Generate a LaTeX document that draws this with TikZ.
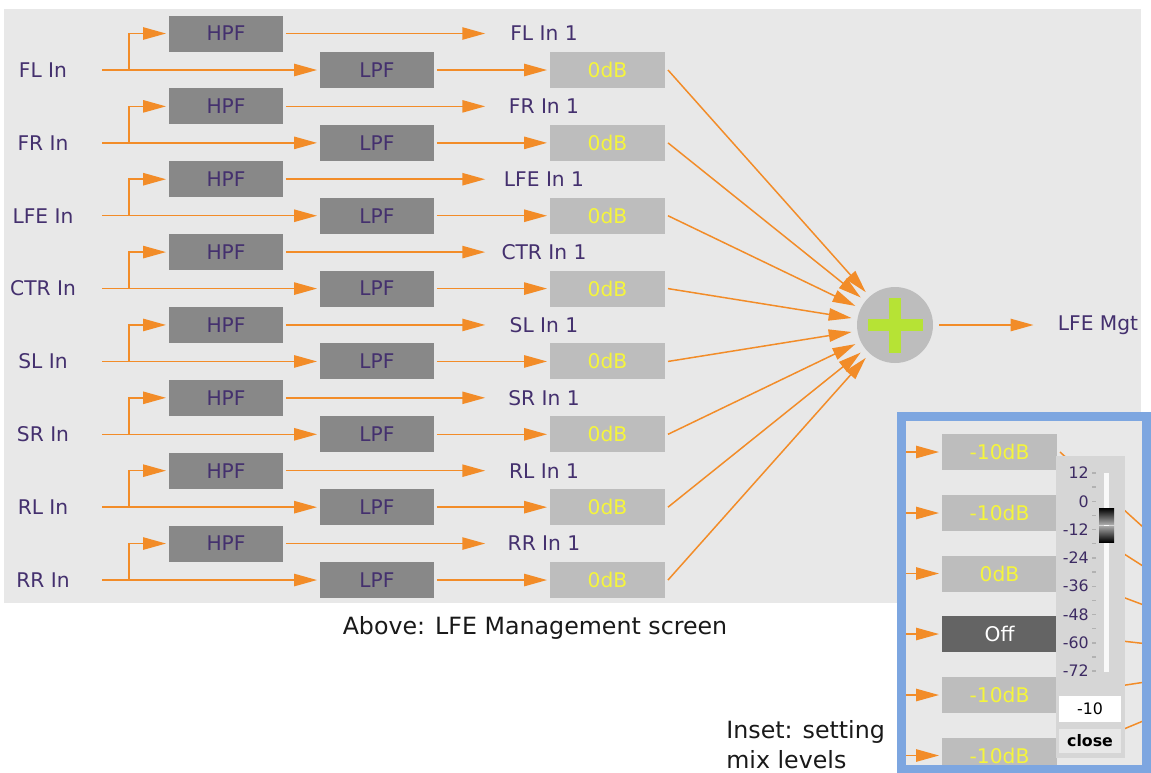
\documentclass[tikz,border=0pt]{standalone}
\usepackage{fontspec}
\setmainfont{DejaVu Sans}
\usetikzlibrary{arrows.meta}
\definecolor{panelGray}{HTML}{E8E8E8}
\definecolor{filtGray}{HTML}{888888}
\definecolor{gainGray}{HTML}{BDBDBD}
\definecolor{labelPurple}{HTML}{44306E}
\definecolor{gainYellow}{HTML}{F5F53C}
\definecolor{sigOrange}{HTML}{F28C28}
\definecolor{plusGreen}{HTML}{B6E335}
\definecolor{insetBlue}{HTML}{7DA6E0}
\definecolor{offGray}{HTML}{646464}
\definecolor{sliderGray}{HTML}{D6D6D6}
\newcommand\chanfont{\fontsize{11.5}{13}\selectfont}
\newcommand\capfont{\fontsize{13.5}{17}\selectfont}
\newcommand\tickfont{\fontsize{9}{10}\selectfont}

\begin{document}
\begin{tikzpicture}[x=0.02cm, y=-0.02cm,
    sig/.style={draw=sigOrange, line width=0.85pt, -{Triangle[length=13pt, width=7pt]}},
    wire/.style={draw=sigOrange, line width=0.85pt},
    filt/.style={fill=filtGray, text=labelPurple, font=\chanfont, minimum width=2.28cm, minimum height=0.72cm, inner sep=0pt, outer sep=0.06cm},
    gain/.style={fill=gainGray, text=gainYellow, font=\chanfont, minimum width=2.3cm, minimum height=0.72cm, inner sep=0pt, outer sep=0.06cm},
    mute/.style={gain, fill=offGray, text=white},
    chanlbl/.style={text=labelPurple, font=\chanfont, inner sep=0pt},
    outlbl/.style={chanlbl, minimum width=2.34cm},
    sumnode/.style={circle, fill=gainGray, minimum size=1.52cm, inner sep=0pt, outer sep=0.12cm},
    caption/.style={text=black!90, font=\capfont, inner sep=0pt},
    scalelbl/.style={text=labelPurple!90!black, font=\tickfont, inner sep=0pt, anchor=east}]
  \useasboundingbox (0,0) rectangle (1151,772);
  \fill[panelGray] (4,9) rectangle (1141,603);
  \node[sumnode] (sum) at (895,325) {};
  \fill[plusGreen] (867.5,318.5) rectangle (922.5,331);
  \fill[plusGreen] (888.5,297.5) rectangle (901,352.5);
  \foreach \name [count=\i] in {FL,FR,LFE,CTR,SL,SR,RL,RR} {
    \pgfmathsetmacro\y{70+72.86*(\i-1)}
    \node[chanlbl] (in\i) at (43,\y) {\name{} In};
    \coordinate (s\i) at (102,\y);
    \coordinate (b\i) at (129,\y);
    \node[filt] (hpf\i) at (226,\y-36.5) {HPF};
    \node[filt] (lpf\i) at (377,\y) {LPF};
    \node[gain] (g\i) at (607.5,\y) {0dB};
    \node[outlbl] (o\i) at (544,\y-36.5) {\name{} In 1};
    \draw[sig] (s\i) -- (lpf\i.west);
    \draw[sig] (b\i) |- (hpf\i.west);
    \draw[sig] (hpf\i.east) -- (o\i.west);
    \draw[sig] (lpf\i.east) -- (g\i.west);
    \draw[sig] (g\i.east) -- (sum);
  }
  \node[chanlbl] (mgt) at (1098,325) {LFE Mgt};
  \draw[sig, shorten >=0.48cm] (sum) -- (mgt);
  \node[caption] (cap) at (535,628) {Above: LFE Management screen};
  \node[caption, anchor=west, align=left] (note) at (726,745) {Inset: setting\\mix levels};
  \begin{scope}
    \clip (901.5,416) rectangle (1146.5,769.5);
    \fill[panelGray] (901.5,416) rectangle (1146.5,769.5);
    \coordinate (isum) at (1290,660);
    \foreach \lvl/\yy/\sty [count=\k] in {-10dB/452/gain, -10dB/513/gain, 0dB/573.5/gain, Off/634/mute, -10dB/695/gain, -10dB/755.5/gain} {
      \node[\sty] (m\k) at (999.5,\yy) {\lvl};
      \coordinate (f\k) at (900,\yy);
      \draw[sig] (f\k) -- (m\k.west);
      \draw[wire] (m\k.east) -- (isum);
    }
    \fill[sliderGray] (1056,456) rectangle (1125,758);
    \fill[white!95!gray] (1104,473) rectangle (1109,672);
    \foreach \v [count=\j] in {12,0,-12,-24,-36,-48,-60,-72} {
      \pgfmathsetmacro\ty{473+28.3*(\j-1)}
      \node[scalelbl] (t\j) at (1089,\ty) {\v};
      \draw[gray!60, line width=0.8pt] (1092,\ty) -- (1096,\ty);
    }
    \foreach \j in {1,...,7} {
      \draw[gray!60, line width=0.8pt] (1092,487+28.3*\j-28.3) -- (1096,487+28.3*\j-28.3);
    }
    \shade[top color=black, bottom color=gray!70] (1099,508) rectangle (1114,524);
    \shade[top color=gray!70, bottom color=black] (1099,526) rectangle (1114,542);
    \node[fill=white, minimum width=1.24cm, minimum height=0.52cm, inner sep=0pt, font=\tickfont] (val) at (1090,708.5) {-10};
    \node[fill=panelGray, minimum width=1.24cm, minimum height=0.48cm, inner sep=0pt, font=\tickfont\bfseries] (close) at (1090,741) {close};
  \end{scope}
  \draw[insetBlue, line width=0.18cm] (901.5,416) rectangle (1146.5,769.5);
\end{tikzpicture}
\end{document}
